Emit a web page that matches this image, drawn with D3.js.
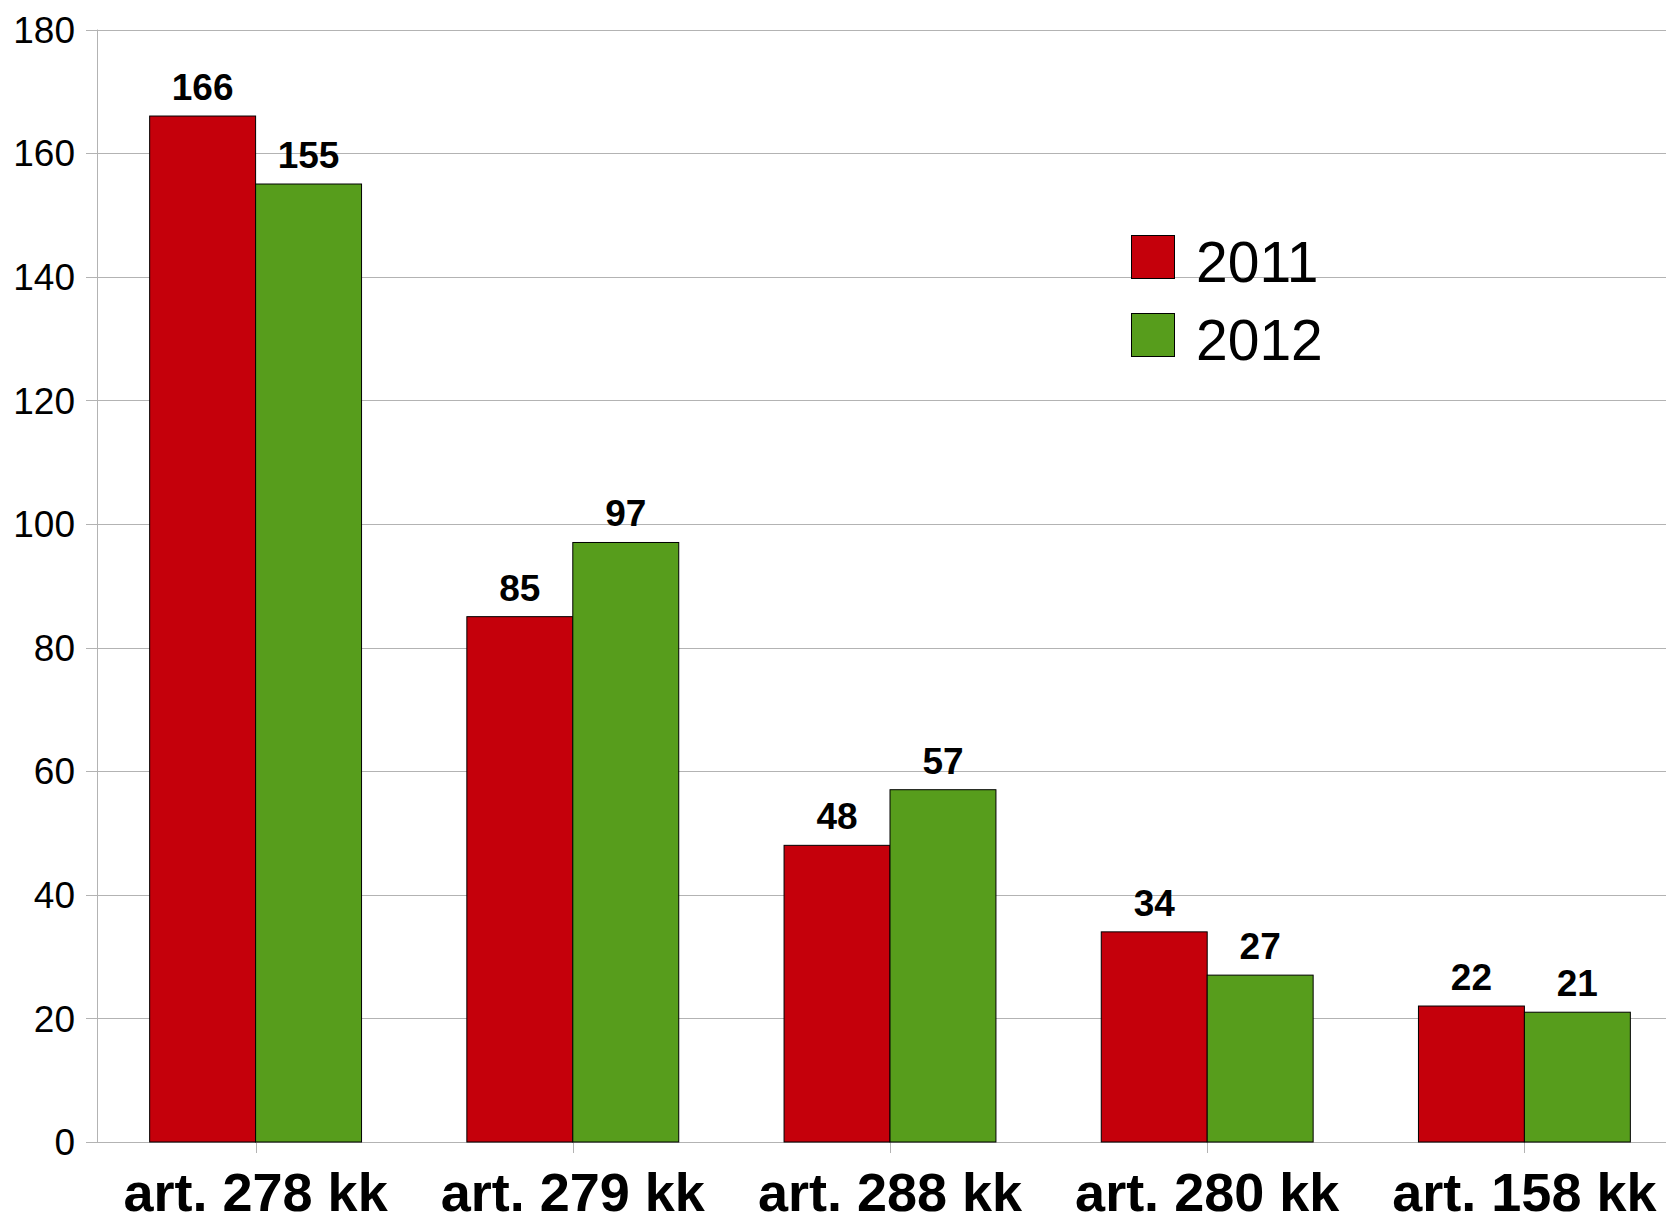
<!DOCTYPE html>
<html>
<head>
<meta charset="utf-8">
<script src="https://cdn.jsdelivr.net/npm/d3@7"></script>
<style>
  body { margin: 0; background: #fff; }
  svg { display: block; font-family: "Liberation Sans", Arial, sans-serif; }
</style>
</head>
<body>
<svg id="chart" width="1666" height="1216"></svg>
<script>
const categories = ['art. 278 kk', 'art. 279 kk', 'art. 288 kk', 'art. 280 kk', 'art. 158 kk']
const seriesNames = ['2011', '2012']
const values2011 = [166, 85, 48, 34, 22]
const values2012 = [155, 97, 57, 27, 21]
const yTicks = [0, 20, 40, 60, 80, 100, 120, 140, 160, 180]
const colors = ['#c5000b', '#579d1c']

const chartWidth = 1666
const plotLeft = 97, plotTop = 29.5, plotBottom = 1142
const step = 317.2
const svg = d3.select('#chart')

const xScale = d3.scaleBand()
                 .domain(categories)
                 .range([plotLeft, plotLeft + step * categories.length])
                 .padding(0)

const yScale = d3.scaleLinear()
                 .domain([0, 180])
                 .range([plotBottom, plotTop])

const barWidth = step * 0.334

// grid lines
svg.append('g')
   .selectAll('line')
   .data(yTicks)
   .enter()
   .append('line')
   .attr('x1', plotLeft - 11)
   .attr('x2', chartWidth)
   .attr('y1', d => Math.round(yScale(d)) + 0.5)
   .attr('y2', d => Math.round(yScale(d)) + 0.5)
   .attr('stroke', '#b3b3b3')
   .attr('stroke-width', 1)

// y axis line
svg.append('line')
   .attr('x1', plotLeft + 0.5).attr('x2', plotLeft + 0.5)
   .attr('y1', yScale(180)).attr('y2', plotBottom)
   .attr('stroke', '#b3b3b3')

// x axis ticks
svg.append('g')
   .selectAll('line')
   .data(categories)
   .enter()
   .append('line')
   .attr('x1', d => Math.round(xScale(d) + step / 2) + 0.5)
   .attr('x2', d => Math.round(xScale(d) + step / 2) + 0.5)
   .attr('y1', plotBottom)
   .attr('y2', plotBottom + 11)
   .attr('stroke', '#b3b3b3')

// y tick labels
svg.append('g')
   .selectAll('text')
   .data(yTicks)
   .enter()
   .append('text')
   .attr('x', 75)
   .attr('y', d => yScale(d))
   .attr('dy', '0.36em')
   .attr('text-anchor', 'end')
   .attr('font-size', 37)
   .attr('fill', '#000')
   .text(d => d)

// bars
const series = [values2011, values2012]
series.forEach((vals, s) => {
    const g = svg.append('g')
    g.selectAll('rect')
     .data(vals)
     .enter()
     .append('rect')
     .attr('x', (d, i) => xScale(categories[i]) + step / 2 - barWidth + s * barWidth)
     .attr('y', d => yScale(d))
     .attr('width', barWidth)
     .attr('height', d => plotBottom - yScale(d))
     .attr('fill', colors[s])
     .attr('stroke', '#000')
     .attr('stroke-width', 1)

    g.selectAll('text')
     .data(vals)
     .enter()
     .append('text')
     .attr('x', (d, i) => xScale(categories[i]) + step / 2 - barWidth / 2 + s * barWidth)
     .attr('y', d => yScale(d) - 16)
     .attr('text-anchor', 'middle')
     .attr('font-size', 37)
     .attr('font-weight', 'bold')
     .text(d => d)
})

// category labels
svg.append('g')
   .selectAll('text')
   .data(categories)
   .enter()
   .append('text')
   .attr('x', d => xScale(d) + step / 2)
   .attr('y', 1211)
   .attr('text-anchor', 'middle')
   .attr('font-size', 54)
   .attr('font-weight', 'bold')
   .text(d => d)

// legend
const legend = svg.append('g')
seriesNames.forEach((name, i) => {
    legend.append('rect')
          .attr('x', 1131.5)
          .attr('y', 235.5 + i * 78)
          .attr('width', 43)
          .attr('height', 43)
          .attr('fill', colors[i])
          .attr('stroke', '#000')
    legend.append('text')
          .attr('x', 1196)
          .attr('y', 282 + i * 78)
          .attr('font-size', 57)
          .text(name)
})
</script>
</body>
</html>
